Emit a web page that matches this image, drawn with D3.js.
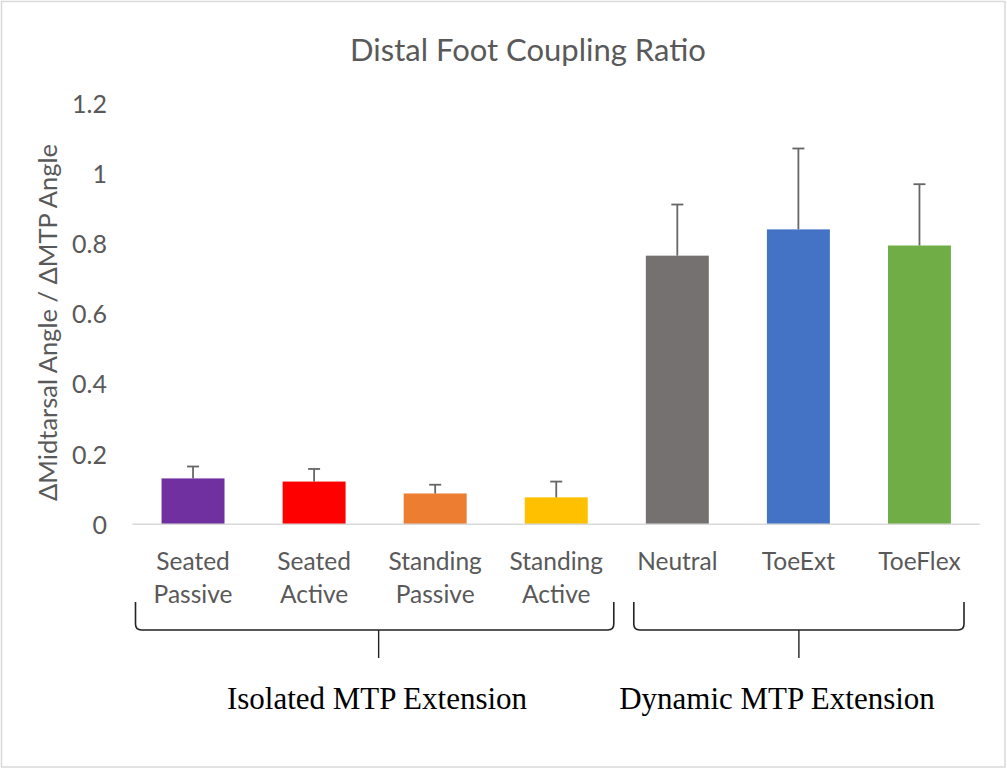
<!DOCTYPE html>
<html>
<head>
<meta charset="utf-8">
<script src="https://cdn.jsdelivr.net/npm/d3@7"></script>
<style>
  html, body { margin: 0; padding: 0; background: #fff; }
  svg { display: block; }
</style>
</head>
<body>
<svg id="chart" width="1007" height="769"></svg>
<script>
// ---- data ----
const categories = [["Seated", "Passive"], ["Seated", "Active"], ["Standing", "Passive"], ["Standing", "Active"], ["Neutral"], ["ToeExt"], ["ToeFlex"]];
const values = [0.131, 0.122, 0.088, 0.077, 0.767, 0.842, 0.796];
const errors = [0.034, 0.036, 0.025, 0.045, 0.146, 0.231, 0.175];
const colors = ["#7030A0", "#FF0000", "#ED7D31", "#FFC000", "#767171", "#4472C4", "#70AD47"];
const yTicks = [0, 0.2, 0.4, 0.6, 0.8, 1, 1.2];
const groupNames = ["Isolated MTP Extension", "Dynamic MTP Extension"];
const groupRanges = [[0, 3], [4, 6]];
const title = "Distal Foot Coupling Ratio";
const yTitle = "\u0394Midtarsal Angle / \u0394MTP Angle";

// ---- layout ----
const svg = d3.select("#chart");
const W = 1007, H = 769;
const plot = { left: 132.5, right: 980, top: 104, bottom: 524.3 };
const sansFont = "Lato, 'Open Sans', sans-serif";
const textColor = "#595959";

// outer border
svg.append("rect").attr("x", 1.5).attr("y", 1.5).attr("width", W - 3.5).attr("height", H - 3.5)
  .attr("fill", "#fff").attr("stroke", "#d9d9d9").attr("stroke-width", 1.5);

const idx = categories.map((d, i) => i);
const x = d3.scaleBand().domain(idx).range([plot.left, plot.right]).paddingInner(0.48).paddingOuter(0.24);
const xOuter = d3.scaleBand().domain(idx).range([plot.left, plot.right]).padding(0);
const y = d3.scaleLinear().domain([0, 1.2]).range([plot.bottom, plot.top]);

// title
svg.append("text").attr("x", 528).attr("y", 61).attr("text-anchor", "middle")
  .attr("font-family", sansFont).attr("font-size", 31).attr("fill", textColor).text(title);

// y axis labels
const yAxis = d3.axisLeft(y).tickValues(yTicks).tickFormat(d => d3.format("")(d)).tickSize(0).tickPadding(0);
const gy = svg.append("g").attr("transform", `translate(107,0)`).call(yAxis);
gy.select(".domain").remove();
gy.selectAll("text").attr("font-family", sansFont).attr("font-size", 25).attr("fill", textColor).attr("dy", "0.35em");

// y axis title
svg.append("text").attr("transform", `translate(57,${(140 + 505) / 2}) rotate(-90)`)
  .attr("text-anchor", "middle").attr("font-family", sansFont).attr("font-size", 25.5).attr("fill", textColor).text(yTitle);

// bars
svg.append("g").selectAll("rect").data(idx).join("rect")
  .attr("x", i => x(i)).attr("width", x.bandwidth())
  .attr("y", i => y(values[i])).attr("height", i => y(0) - y(values[i]))
  .attr("fill", i => colors[i]);

// error bars
const eg = svg.append("g").attr("stroke", "#666").attr("stroke-width", 1.8).attr("fill", "none");
idx.forEach(i => {
  const cx = x(i) + x.bandwidth() / 2;
  eg.append("line").attr("x1", cx).attr("x2", cx).attr("y1", y(values[i])).attr("y2", y(values[i] + errors[i]));
  eg.append("line").attr("x1", cx - 6).attr("x2", cx + 6).attr("y1", y(values[i] + errors[i])).attr("y2", y(values[i] + errors[i]));
});

// x axis line
svg.append("line").attr("x1", plot.left).attr("x2", plot.right).attr("y1", y(0)).attr("y2", y(0))
  .attr("stroke", "#d9d9d9").attr("stroke-width", 1.5);

// category labels
const xAxis = d3.axisBottom(x).tickSize(0).tickFormat("");
const gx = svg.append("g").attr("transform", `translate(0,${plot.bottom})`).call(xAxis);
gx.select(".domain").remove();
idx.forEach(i => {
  const cx = x(i) + x.bandwidth() / 2;
  const t = svg.append("text").attr("text-anchor", "middle").attr("font-family", sansFont)
    .attr("font-size", 24.5).attr("fill", textColor);
  categories[i].forEach((line, k) => {
    t.append("tspan").attr("x", cx).attr("y", 570 + k * 33).text(line);
  });
});

// group brackets
const bracketInsets = [[3, 3], [17, 16]];
const bTop = 602, bBot = 630, stemBot = 658, r = 6;
groupRanges.forEach((g, gi) => {
  const x0 = xOuter(g[0]) + bracketInsets[gi][0];
  const x1 = xOuter(g[1]) + xOuter.bandwidth() - bracketInsets[gi][1];
  const mid = (x0 + x1) / 2 + (gi === 0 ? 4 : 0);
  const p = d3.path();
  p.moveTo(x0, bTop);
  p.lineTo(x0, bBot - r);
  p.quadraticCurveTo(x0, bBot, x0 + r, bBot);
  p.lineTo(x1 - r, bBot);
  p.quadraticCurveTo(x1, bBot, x1, bBot - r);
  p.lineTo(x1, bTop);
  svg.append("path").attr("d", p.toString()).attr("fill", "none").attr("stroke", "#222").attr("stroke-width", 1.6);
  svg.append("line").attr("x1", mid).attr("x2", mid).attr("y1", bBot).attr("y2", stemBot)
    .attr("stroke", "#222").attr("stroke-width", 1.4);
  svg.append("text").attr("x", gi === 0 ? 377 : 777).attr("y", 709).attr("text-anchor", "middle")
    .attr("font-family", "'Liberation Serif', 'Times New Roman', serif").attr("font-size", 31)
    .attr("fill", "#000").text(groupNames[gi]);
});
</script>
</body>
</html>
